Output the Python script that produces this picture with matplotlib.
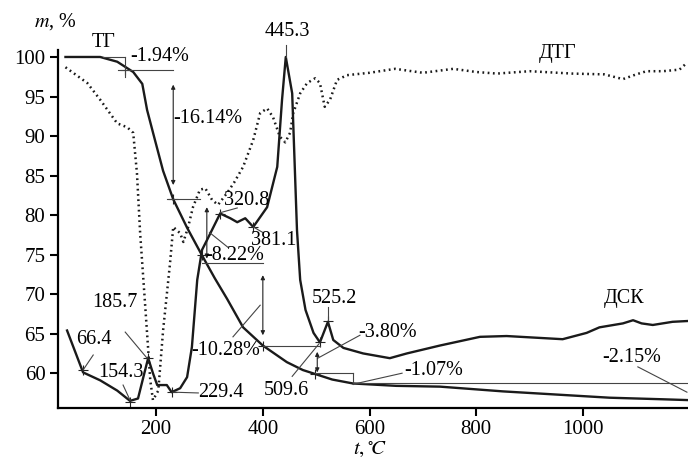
import matplotlib
matplotlib.use("Agg")
import matplotlib.pyplot as plt

plt.rcParams['font.family'] = ['Liberation Serif', 'DejaVu Serif']
plt.rcParams['mathtext.fontset'] = 'stix'

# TG curve (mass, %)
tg_t = [30, 95, 127, 157, 174, 183, 195, 213, 232, 258, 286, 310, 333, 363, 400,
        445, 475, 498, 530, 569, 650, 732, 850, 950, 1050, 1150, 1196]
tg_m = [100, 100, 99.4, 98.1, 96.6, 93.3, 90.2, 85.6, 82.0, 78.4, 74.9, 72.0, 69.4,
        65.8, 63.5, 61.4, 60.4, 59.9, 59.2, 58.7, 58.4, 58.3, 57.7, 57.3, 56.9,
        56.7, 56.6]

# DTG curve (dotted)
dtg_t = [30, 71, 95, 127, 146, 157, 164, 170, 180, 189, 194, 204, 213, 226, 232,
         245, 251, 260, 269, 282, 292, 305, 316, 333, 346, 363, 382, 395, 408, 419,
         432, 442, 451, 457, 470, 483, 498, 507, 516, 526, 539, 558, 600, 648, 700,
         757, 800, 839, 900, 980, 1040, 1075, 1100, 1119, 1150, 1181, 1194]
dtg_v = [98.7, 96.7, 94.6, 91.6, 91.1, 90.4, 85.3, 77.7, 68.0, 59.1, 56.6, 57.8,
         65.4, 73.9, 78.5, 77.7, 76.6, 78.5, 81.0, 83.2, 83.4, 81.9, 81.3, 82.8,
         84.1, 86.1, 89.5, 92.9, 93.5, 92.4, 89.9, 89.2, 90.4, 92.9, 95.4, 96.7,
         97.3, 96.7, 93.7, 94.6, 97.1, 97.7, 98.0, 98.5, 98.0, 98.5, 98.1, 97.9,
         98.2, 97.9, 97.8, 97.2, 97.8, 98.2, 98.2, 98.4, 99.2]

# DSC curve
dsc_t = [33, 63, 95, 127, 151, 166, 176, 185, 194, 202, 220, 229, 245, 258, 267,
         277, 286, 295, 320, 339, 352, 367, 382, 408, 427, 436, 443, 455, 464, 470,
         480, 495, 507, 522, 532, 551, 588, 638, 670, 732, 807, 857, 962, 1007, 1031,
         1075, 1094, 1110, 1131, 1168, 1196]
dsc_v = [65.4, 60.1, 59.1, 57.8, 56.5, 56.8, 59.5, 61.9, 60.0, 58.5, 58.5, 57.6,
         58.1, 59.5, 63.3, 71.8, 75.6, 76.8, 80.2, 79.6, 79.1, 79.6, 78.5, 81.0,
         86.1, 94.6, 100.0, 95.4, 78.1, 71.8, 68.0, 65.1, 63.9, 66.5, 64.2, 63.2,
         62.5, 61.9, 62.5, 63.5, 64.6, 64.7, 64.3, 65.1, 65.8, 66.3, 66.7, 66.3,
         66.1, 66.5, 66.6]

yticks = [60, 65, 70, 75, 80, 85, 90, 95, 100]
xticks = [200, 400, 600, 800, 1000]

fig = plt.figure(figsize=(6.88, 4.66), dpi=100)
ax = fig.add_axes([0.0843, 0.1245, 0.9157, 0.7685])

ax.plot(tg_t, tg_m, color='#1a1a1a', lw=1.7)
ax.plot(dsc_t, dsc_v, color='#1a1a1a', lw=1.7)
ax.plot(dtg_t, dtg_v, color='#1a1a1a', lw=1.8, linestyle=(0, (0.7, 1.4)))

ax.set_xlim(16, 1197)
ax.set_ylim(55.6, 100.9)
ax.set_xticks(xticks)
ax.set_yticks(yticks)
for s in ['top', 'right']:
    ax.spines[s].set_visible(False)
for s in ['left', 'bottom']:
    ax.spines[s].set_linewidth(1.6)
ax.tick_params(direction='out', length=6, width=1.5, labelsize=15, pad=3)

fs = 14.5
lc = '#444444'
lw = 0.8


def line(xs, ys):
    ax.plot(xs, ys, color=lc, lw=lw, clip_on=False)


def arrow(x, y0, y1):
    ax.annotate('', xy=(x, y1), xytext=(x, y0),
                arrowprops=dict(arrowstyle='<|-|>', color='#222222', lw=0.8,
                                mutation_scale=6, shrinkA=0, shrinkB=0))


# tick crosses on curves
ax.plot([63, 151, 185, 229, 320, 382, 232, 286, 400, 507, 498, 142, 522],
        [60.4, 56.4, 61.9, 57.6, 80.2, 78.5, 82.0, 74.9, 63.5, 63.9, 59.9, 98.4, 66.6],
        '+', color='#222222', ms=7, mew=0.8)

# TG step annotations
ax.text(102, 101.8, 'ТГ', fontsize=fs, ha='center', va='center', clip_on=False)
line([101, 142], [100, 100])
line([142, 142], [100, 97.5])
line([129, 232], [98.3, 98.3])
ax.text(207, 100.1, '-1.94%', fontsize=fs, ha='center', va='center')

arrow(232, 96.5, 83.8)
line([221, 282], [82.0, 82.0])
ax.text(297, 92.2, '-16.14%', fontsize=fs, ha='center', va='center')

arrow(295, 74.5, 81.0)
line([286, 400], [73.9, 73.9])
line([300, 335], [77.8, 75.9])
ax.text(348, 74.9, '-8.22%', fontsize=fs, ha='center', va='center')

arrow(400, 72.4, 64.8)
line([400, 507], [63.5, 63.5])
line([344, 395], [64.6, 68.6])
ax.text(331, 62.9, '-10.28%', fontsize=fs, ha='center', va='center')

arrow(502, 62.7, 60.1)
line([498, 569], [60.0, 60.0])
line([569, 569], [60.0, 58.6])
line([569, 1197], [58.7, 58.7])
line([503, 582], [61.9, 64.8])
ax.text(633, 65.1, '-3.80%', fontsize=fs, ha='center', va='center')

line([569, 661], [58.6, 60.0])
ax.text(721, 60.4, '-1.07%', fontsize=fs, ha='center', va='center')

line([1103, 1195], [60.8, 57.6])
ax.text(1091, 62.0, '-2.15%', fontsize=fs, ha='center', va='center')

# peak labels
line([443, 443], [101.5, 100])
ax.text(445, 103.2, '445.3', fontsize=fs, ha='center', va='center', clip_on=False)
line([320, 352], [80.3, 80.9])
ax.text(370, 81.9, '320.8', fontsize=fs, ha='center', va='center')
line([382, 400], [78.5, 77.8])
ax.text(420, 76.8, '381.1', fontsize=fs, ha='center', va='center')
line([522, 522], [68.4, 66.7])
ax.text(535, 69.5, '525.2', fontsize=fs, ha='center', va='center')
line([455, 505], [59.6, 63.7])
ax.text(445, 57.8, '509.6', fontsize=fs, ha='center', va='center')
line([142, 183], [65.2, 61.9])
ax.text(123, 68.9, '185.7', fontsize=fs, ha='center', va='center')
line([82, 63], [62.3, 60.4])
ax.text(84, 64.2, '66.4', fontsize=fs, ha='center', va='center')
line([138, 151], [58.5, 56.6])
ax.text(133, 60.1, '154.3', fontsize=fs, ha='center', va='center')
line([232, 279], [57.6, 57.5])
ax.text(322, 57.6, '229.4', fontsize=fs, ha='center', va='center')

ax.text(953, 100.5, 'ДТГ', fontsize=fs, ha='center', va='center')
ax.text(1078, 69.5, 'ДСК', fontsize=fs, ha='center', va='center')

fig.text(0.08, 0.953, r'$m$, %', fontsize=14.5, ha='center', va='center')
fig.text(0.538, 0.036, r'$t,^{\circ}\!C$', fontsize=15, ha='center', va='center')

fig.savefig('out.png', dpi=100)
